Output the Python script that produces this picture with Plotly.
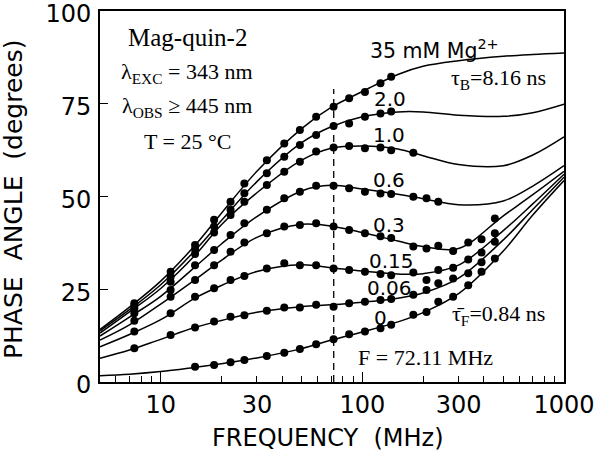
import math
import plotly.graph_objects as go

# ---- data ----
N = None
data_freq = [7.4, 11.2, 14.8, 18.4, 22.2, 26, 33.6, 41, 49, 59, 72, 86, 103, 123, 139,
             179, 208, 238, 282, 335, 390, 454]
pts_35 = [21.2, 29.7, 36.9, 43.7, 48.6, 53.5, 59.8, 64.3, 67.9, 71.5, 74.2, 76.5, 78.2, 80.5, 82.3,
          N, N, N, N, N, N, N]
pts_2_0 = [20.6, 28.4, 35.8, 41.9, 46.4, 50.9, 56.3, 60.7, 63.9, 66.6, 69.0, 69.7, 71.5, 72.4, 72.9,
           N, N, N, N, N, N, N]
pts_1_0 = [19.9, 27.0, 34.5, 40.3, 45.0, 48.6, 53.1, 56.7, 59.4, 62.1, 63.2, 63.6, 63.0, 63.2, 62.5,
           61.8, N, N, N, N, N, N]
pts_0_6 = [18.5, 24.8, 31.5, 35.6, 39.6, 42.8, 46.4, 49.5, 51.3, 52.9, 52.9, 52.2, 51.3, 50.8, 50.7,
           49.9, 49.5, 48.6, N, N, N, N]
pts_0_3 = [16.5, 23.0, 27.5, 31.5, 35.1, 37.6, 40.1, 41.9, 42.3, 42.8, 41.9, 41.0, 40.1, 39.3, 38.8,
           36.5, 36.0, 36.7, 35.3, 37.6, 38.5, 44.1]
pts_0_15 = [13.6, 18.5, 23.0, 25.3, 27.5, 28.6, 30.6, 32.0, 31.5, 31.5, 30.6, 30.2, 29.7, 29.1, 28.8,
            29.5, 27.5, 30.2, 30.8, 33.0, 34.9, 40.1]
pts_0_06 = [9.1, 12.7, 14.7, 16.3, 17.6, 18.0, 19.2, 20.1, 20.1, 20.8, 20.3, 21.2, 21.6, 22.1, 22.4,
            23.5, 24.8, 26.6, 27.9, 29.3, 32.3, 37.8]
pts_0 = [N, N, 4.1, 4.6, 5.3, 5.9, 7.0, 7.9, 8.9, 10.2, 11.5, 12.9, 13.6, 14.5, 15.4,
         18.1, 18.9, 21.6, 23.0, 26.1, 29.7, 33.3]

fit_freq = [5, 7, 10, 15, 20, 30, 50, 70, 100, 150, 200, 300, 500, 700, 1000]
fit_35 = [14.2, 20.2, 27.2, 37.2, 45.5, 56.8, 68.3, 74.0, 78.3, 82.9, 85.1, 86.6, 87.8, 88.3, 88.7]
fit_2_0 = [13.8, 19.5, 26.2, 35.8, 43.5, 54.0, 64.5, 68.8, 71.5, 72.8, 72.8, 71.9, 71.6, 72.6, 74.9]
fit_1_0 = [13.2, 18.9, 25.2, 34.5, 42.4, 51.0, 59.8, 63.0, 63.6, 62.8, 61.0, 58.6, 58.3, 61.2, 66.1]
fit_0_6 = [12.4, 17.5, 23.1, 31.3, 37.2, 44.6, 51.5, 53.0, 52.0, 50.6, 49.4, 47.8, 48.8, 52.8, 58.3]
fit_0_3 = [11.3, 15.4, 21.0, 27.8, 32.8, 39.0, 42.5, 42.0, 40.3, 38.0, 36.5, 36.0, 44.8, 50.5, 56.8]
fit_0_15 = [9.5, 12.8, 16.8, 22.8, 26.0, 29.8, 31.6, 30.8, 29.9, 29.1, 29.2, 31.5, 40.8, 48.0, 56.0]
fit_0_06 = [6.4, 8.6, 11.5, 14.8, 16.6, 18.8, 20.3, 20.8, 21.5, 22.6, 24.0, 28.0, 38.3, 46.5, 55.2]
fit_0 = [1.7, 2.1, 2.8, 4.0, 4.9, 6.5, 9.0, 11.3, 13.5, 16.2, 18.7, 23.8, 35.3, 45.0, 54.3]

mod_freq = [72.11, 72.11]
mod_span = [0, 79]

x_ticks = [10, 30, 100, 300, 1000]
x_minor = [6, 7, 8, 9, 20, 40, 50, 60, 70, 80, 90, 200, 400, 500, 600, 700, 800, 900]
x_decades = [10, 100]
y_ticks = [0, 25, 50, 75, 100]

curves = [
    ("35", pts_35, fit_35),
    ("2.0", pts_2_0, fit_2_0),
    ("1.0", pts_1_0, fit_1_0),
    ("0.6", pts_0_6, fit_0_6),
    ("0.3", pts_0_3, fit_0_3),
    ("0.15", pts_0_15, fit_0_15),
    ("0.06", pts_0_06, fit_0_06),
    ("0", pts_0, fit_0),
]

fig = go.Figure()
for name, pts, fit in curves:
    fig.add_trace(go.Scatter(x=fit_freq, y=fit, mode="lines", line=dict(color="black", width=1.5, shape="spline"),
                             showlegend=False, hoverinfo="skip"))
    fig.add_trace(go.Scatter(x=data_freq, y=pts, mode="markers", marker=dict(color="black", size=8),
                             showlegend=False, name=name))

fig.add_trace(go.Scatter(x=mod_freq, y=mod_span, mode="lines",
                         line=dict(color="black", width=1.3, dash="7px,5px"), showlegend=False, hoverinfo="skip"))
# invisible trace to carry the overlay axis with the longer decade ticks
fig.add_trace(go.Scatter(x=[10], y=[None], xaxis="x2", mode="markers", showlegend=False, hoverinfo="skip"))

L, R, T, B = 100, 564, 11, 382
tickfont = dict(family="DejaVu Sans", size=24, color="black")
fig.update_layout(
    width=600, height=451,
    margin=dict(l=L, r=600 - R, t=T, b=451 - B, autoexpand=False),
    paper_bgcolor="white", plot_bgcolor="white",
    xaxis=dict(type="log", range=[math.log10(5), 3], tickvals=x_ticks, ticktext=[str(v) for v in x_ticks],
               ticks="inside", ticklen=6, tickwidth=1.3, tickcolor="black",
               minor=dict(tickvals=x_minor, ticks="inside", ticklen=6, tickwidth=1.3, tickcolor="black"),
               showline=True, linecolor="black", linewidth=1.6, mirror=True, showgrid=False, zeroline=False,
               tickfont=tickfont, ticklabelstandoff=0, automargin=False, ticklabeloverflow="allow"),
    xaxis2=dict(type="log", range=[math.log10(5), 3], overlaying="x", anchor="y", side="bottom",
                tickvals=x_decades, ticks="inside", ticklen=10, tickwidth=1.3, tickcolor="black",
                showticklabels=False, showline=False, showgrid=False, zeroline=False, automargin=False),
    yaxis=dict(range=[0, 100], tickvals=y_ticks, ticks="inside", ticklen=8, tickwidth=1.3, tickcolor="black",
               showline=True, linecolor="black", linewidth=1.6, mirror=True, showgrid=False, zeroline=False,
               tickfont=tickfont, ticklabelstandoff=2, ticklabelshift=3, automargin=False,
               ticklabeloverflow="allow"),
)

serif = "Liberation Serif"
sans = "DejaVu Sans"
ann = [
    ("Mag-quin-2", 187, 37, serif, 25, 0),
    ("λ<sub>EXC</sub> = 343 nm", 187, 73, serif, 22, 0),
    ("λ<sub>OBS</sub> ≥ 445 nm", 187, 107, serif, 22, 0),
    ("T = 25 °C", 187, 141, serif, 22, 0),
    ("35 mM Mg<sup>2+</sup>", 434, 50, sans, 20.5, 0),
    ("τ<sub>B</sub>=8.16 ns", 498, 79, serif, 22, 0),
    ("2.0", 390, 99, sans, 20, 0),
    ("1.0", 389, 135, sans, 20, 0),
    ("0.6", 389, 180, sans, 20, 0),
    ("0.3", 389, 225, sans, 20, 0),
    ("0.15", 391, 261, sans, 20, 0),
    ("0.06", 389, 288, sans, 20, 0),
    ("0", 380, 318, sans, 20, 0),
    ("τ̄<sub>F</sub>=0.84 ns", 498, 315, serif, 22, 0),
    ("F = 72.11 MHz", 425, 357, serif, 22, 0),
    ("FREQUENCY  (MHz)", 328, 438, sans, 24, 0),
    ("PHASE  ANGLE  (degrees)", 13, 200, sans, 25, -90),
]
for text, px, py, fam, sz, ang in ann:
    fig.add_annotation(text=text, x=(px - L) / (R - L), y=(B - py) / (B - T), xref="paper", yref="paper",
                       showarrow=False, xanchor="center", yanchor="middle", textangle=ang,
                       font=dict(family=fam, size=sz, color="black"))

fig.write_html("out.html", config={"displayModeBar": False},
               post_script="document.body.style.margin='0px';")
